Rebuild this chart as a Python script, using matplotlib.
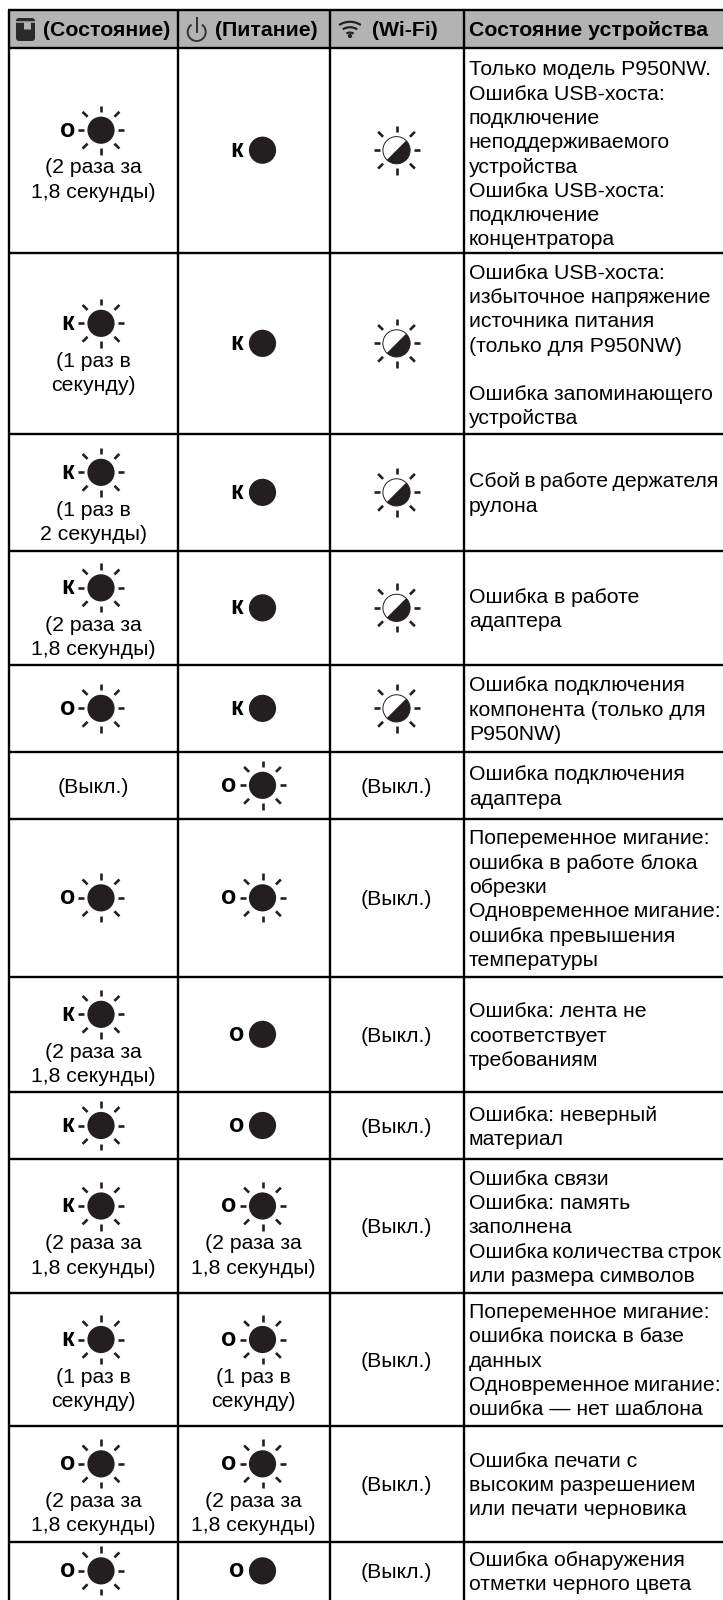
import numpy as np
import matplotlib
matplotlib.use("Agg")
import matplotlib.pyplot as plt
from matplotlib.patches import Circle, Wedge, Arc, FancyBboxPatch

plt.rcParams["font.family"] = ["Liberation Sans", "DejaVu Sans"]

W, H = 723, 1600
FS = 15.3
PITCH = 24.3
BASE = 7.2
col_x = [8.5, 178, 330, 463.5]
row_y = [10, 47.7, 252.7, 434, 550.7, 665, 751.7, 819, 976.7, 1092, 1159, 1293, 1426, 1541.7, 1600]

NOTE_2 = ["(2 раза за", "1,8 секунды)"]
NOTE_1S = ["(1 раз в", "секунду)"]
NOTE_12 = ["(1 раз в", "2 секунды)"]

# lamp columns: (letter, blinking), None = off
status_lamp = [("о", True), ("к", True), ("к", True), ("к", True), ("о", True), None, ("о", True),
               ("к", True), ("к", True), ("к", True), ("к", True), ("о", True), ("о", True)]
status_note = [NOTE_2, NOTE_1S, NOTE_12, NOTE_2, [], [], [], NOTE_2, [], NOTE_2, NOTE_1S, NOTE_2, []]
power_lamp = [("к", False), ("к", False), ("к", False), ("к", False), ("к", False), ("о", True), ("о", True),
              ("о", False), ("о", False), ("о", True), ("о", True), ("о", True), ("о", False)]
power_note = [[], [], [], [], [], [], [], [], [], NOTE_2, NOTE_1S, NOTE_2, []]
wifi_half = [True, True, True, True, True, False, False, False, False, False, False, False, False]
descriptions = [
    ["Только модель P950NW.", "Ошибка USB-хоста:", "подключение", "неподдерживаемого", "устройства",
     "Ошибка USB-хоста:", "подключение", "концентратора"],
    ["Ошибка USB-хоста:", "избыточное напряжение", "источника питания", "(только для P950NW)", "",
     "Ошибка запоминающего", "устройства"],
    ["Сбой\u2009в\u2009работе\u2009держателя", "рулона"],
    ["Ошибка в работе", "адаптера"],
    ["Ошибка подключения", "компонента (только для", "P950NW)"],
    ["Ошибка подключения", "адаптера"],
    ["Попеременное мигание:", "ошибка в работе блока", "обрезки", "Одновременное\u2009мигание:",
     "ошибка превышения", "температуры"],
    ["Ошибка: лента не", "соответствует", "требованиям"],
    ["Ошибка: неверный", "материал"],
    ["Ошибка связи", "Ошибка: память", "заполнена", "Ошибка\u2009количества\u2009строк", "или размера символов"],
    ["Попеременное мигание:", "ошибка поиска в базе", "данных", "Одновременное\u2009мигание:", "ошибка — нет шаблона"],
    ["Ошибка печати с", "высоким разрешением", "или печати черновика"],
    ["Ошибка обнаружения", "отметки черного цвета"],
]
headers = ["(Состояние)", "(Питание)", "(Wi-Fi)", "Состояние устройства"]
OFF_TEXT = "(Выкл.)"

INK = "#231f20"
GREY = "#b3b3b3"


def rays(ax, cx, cy):
    for i in range(8):
        a = np.deg2rad(i * 45)
        if i % 4 == 0:
            r0, r1 = 17, 23
        elif i % 2 == 0:
            r0, r1 = 18, 24.5
        else:
            r0, r1 = 19, 26
        ax.plot([cx + r0 * np.cos(a), cx + r1 * np.cos(a)], [cy + r0 * np.sin(a), cy + r1 * np.sin(a)],
                color=INK, lw=1.9, solid_capstyle="butt", zorder=3)


def lamp(ax, cx, cy, letter, blink):
    ax.add_patch(Circle((cx, cy), 13.6, fc=INK, ec="none", zorder=3))
    if blink:
        rays(ax, cx, cy)
    lx = cx - 33.5 if blink else cx - 25.5
    ax.text(lx, cy + 6.5, letter, fontsize=18, fontweight="bold", ha="center", va="baseline", color="black")


def half_lamp(ax, cx, cy):
    ax.add_patch(Wedge((cx, cy), 13.6, 135, 315, fc="white", ec="none", zorder=3))
    ax.add_patch(Wedge((cx, cy), 13.6, -45, 135, fc=INK, ec="none", zorder=3))
    ax.add_patch(Circle((cx, cy), 13.6, fc="none", ec=INK, lw=0.7, zorder=4))
    rays(ax, cx, cy)


def main(outfile="out.png"):
    fig = plt.figure(figsize=(W / 100, H / 100), dpi=100)
    ax = fig.add_axes([0, 0, 1, 1])
    ax.set_xlim(0, W)
    ax.set_ylim(H, 0)
    ax.axis("off")

    ax.fill_between([col_x[0], W], row_y[0], row_y[1], color=GREY, lw=0, zorder=0)
    for y in row_y[:-1]:
        ax.plot([col_x[0] - 1, W], [y, y], color="black", lw=1.7, solid_capstyle="butt", zorder=2)
    for x in col_x:
        ax.plot([x, x], [row_y[0], H], color="black", lw=1.7, solid_capstyle="butt", zorder=2)

    # header icons
    ax.add_patch(FancyBboxPatch((17.5, 19.5), 16, 20, boxstyle="round,pad=1.5,rounding_size=3", fc="#2b2a2b", ec="none", zorder=3))
    ax.plot([16, 35], [21.5, 21.5], color=GREY, lw=1.1, zorder=4)
    ax.plot([26.5, 26.5], [21.5, 29], color=GREY, lw=5, solid_capstyle="butt", zorder=4)
    ax.add_patch(Arc((196.7, 32), 18, 18, theta1=-55, theta2=235, color="#333333", lw=1.4, zorder=3))
    ax.plot([196.7, 196.7], [18, 32], color="#333333", lw=1.4, zorder=3)
    for r in (6, 12, 18):
        ax.add_patch(Arc((350, 38), 2 * r, 2 * r * 0.9, theta1=230, theta2=310, color="#222222", lw=1.6, zorder=3))
    ax.add_patch(Circle((350, 36), 2.1, fc="#222222", ec="none", zorder=3))

    hx = [106.5, 266, 405, 469]
    has = ["center", "center", "center", "left"]
    for x, s, ha in zip(hx, headers, has):
        ax.text(x, 29 + BASE, s, fontsize=FS, fontweight="bold", ha=ha, va="baseline", color="black")

    for i in range(len(descriptions)):
        mid = (row_y[i + 1] + row_y[i + 2]) / 2
        # status column
        if status_lamp[i] is None:
            ax.text(93.5, mid + BASE, OFF_TEXT, fontsize=FS, ha="center", va="baseline")
        else:
            yy = mid - 20 if status_note[i] else mid
            lamp(ax, 101, yy, *status_lamp[i])
            for k, s in enumerate(status_note[i]):
                ax.text(93.5, yy + 36 + k * PITCH + BASE, s, fontsize=FS, ha="center", va="baseline")
        # power column
        yy = mid - 20 if power_note[i] else mid
        lamp(ax, 262.5, yy, *power_lamp[i])
        for k, s in enumerate(power_note[i]):
            ax.text(253.5, yy + 36 + k * PITCH + BASE, s, fontsize=FS, ha="center", va="baseline")
        # wi-fi column
        if wifi_half[i]:
            half_lamp(ax, 396.5, mid)
        else:
            ax.text(396.5, mid + BASE, OFF_TEXT, fontsize=FS, ha="center", va="baseline")
        # description
        lines = descriptions[i]
        shift = 3 if i == 0 else (1 if i == 1 else 0)
        y0 = mid + shift - (len(lines) - 1) * PITCH / 2
        for k, s in enumerate(lines):
            ax.text(469, y0 + k * PITCH + BASE, s, fontsize=FS, ha="left", va="baseline")

    fig.savefig(outfile, dpi=100, facecolor="white")


if __name__ == "__main__":
    main()
